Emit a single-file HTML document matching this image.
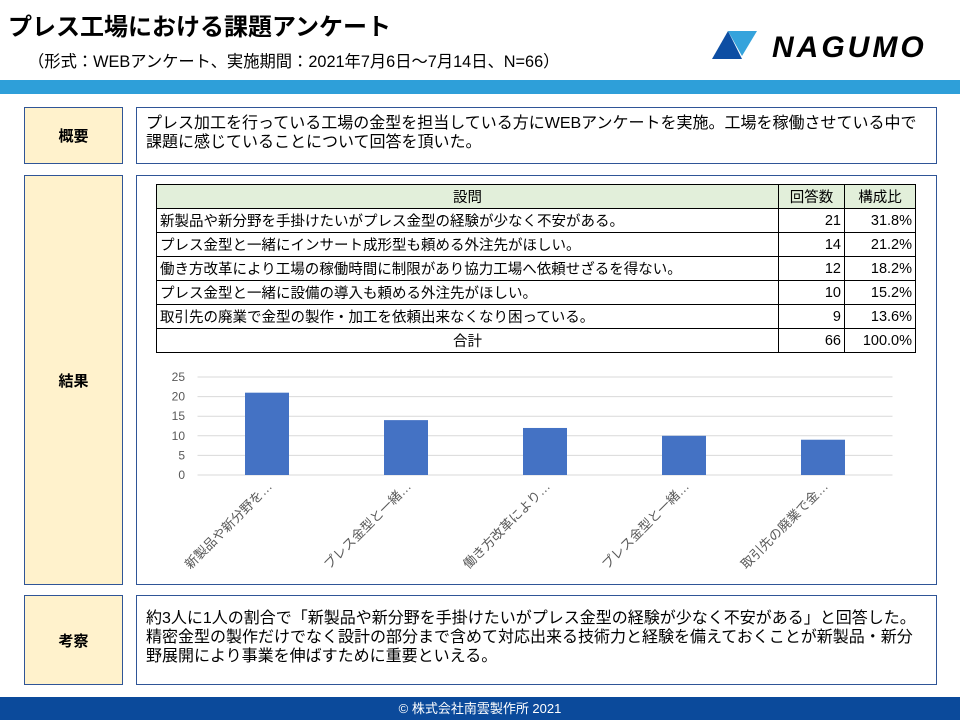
<!DOCTYPE html>
<html><head><meta charset="utf-8">
<style>
*{margin:0;padding:0;box-sizing:border-box}
body{width:960px;height:720px;position:relative;background:#fff;font-family:"Liberation Sans","Noto Sans CJK JP",sans-serif;color:#000;overflow:hidden}
.abs{position:absolute}
.lbl{position:absolute;left:24px;width:99px;background:#fff2cc;border:1px solid #2f5597;font-weight:bold;font-size:15px;display:flex;align-items:center;justify-content:center}
.box{position:absolute;left:136px;width:801px;border:1px solid #2f5597;background:#fff;white-space:nowrap;overflow:hidden}
table{border-collapse:collapse;position:absolute;left:156px;top:184px;font-size:14.5px;table-layout:fixed}
td{border:1px solid #000;height:24px;padding:0 3px;white-space:nowrap;overflow:hidden}
.n{text-align:right}
</style></head><body>
<div class="abs" style="left:8px;top:7px;font-size:24px;font-weight:bold">プレス工場における課題アンケート</div>
<div class="abs" style="left:28px;top:48px;font-size:16.3px">（形式：WEBアンケート、実施期間：2021年7月6日～7月14日、N=66）</div>
<svg class="abs" style="left:700px;top:25px" width="260" height="40">
<polygon points="12,34 28,6 42,34" fill="#0d4ea3"/>
<polygon points="28,6 57,6 42,31" fill="#35a3dc"/>
<text x="72" y="32" font-family="Liberation Sans" font-weight="bold" font-style="italic" font-size="30" letter-spacing="3">NAGUMO</text>
</svg>
<div class="abs" style="left:0;top:80px;width:960px;height:14px;background:#2e9fd9"></div>

<div class="lbl" style="top:107px;height:57px">概要</div>
<div class="box" style="top:107px;height:57px;padding:6px 9px;font-size:16px;line-height:19px">プレス加工を行っている工場の金型を担当している方にWEBアンケートを実施。工場を稼働させている中で<br>課題に感じていることについて回答を頂いた。</div>

<div class="lbl" style="top:175px;height:410px">結果</div>
<div class="box" style="top:175px;height:410px"></div>
<table>
<colgroup><col style="width:622px"><col style="width:66px"><col style="width:71px"></colgroup>
<tr style="background:#e2efda"><td style="text-align:center">設問</td><td style="text-align:center">回答数</td><td style="text-align:center">構成比</td></tr>
<tr><td>新製品や新分野を手掛けたいがプレス金型の経験が少なく不安がある。</td><td class="n">21</td><td class="n">31.8%</td></tr>
<tr><td>プレス金型と一緒にインサート成形型も頼める外注先がほしい。</td><td class="n">14</td><td class="n">21.2%</td></tr>
<tr><td>働き方改革により工場の稼働時間に制限があり協力工場へ依頼せざるを得ない。</td><td class="n">12</td><td class="n">18.2%</td></tr>
<tr><td>プレス金型と一緒に設備の導入も頼める外注先がほしい。</td><td class="n">10</td><td class="n">15.2%</td></tr>
<tr><td>取引先の廃業で金型の製作・加工を依頼出来なくなり困っている。</td><td class="n">9</td><td class="n">13.6%</td></tr>
<tr><td style="text-align:center">合計</td><td class="n">66</td><td class="n">100.0%</td></tr>
</table>
<svg id="chart" class="abs" style="left:0;top:0" width="960" height="720"></svg>

<div class="lbl" style="top:595px;height:90px">考察</div>
<div class="box" style="top:595px;height:90px;padding:13px 9px;font-size:16px;line-height:19px">約3人に1人の割合で「新製品や新分野を手掛けたいがプレス金型の経験が少なく不安がある」と回答した。<br>精密金型の製作だけでなく設計の部分まで含めて対応出来る技術力と経験を備えておくことが新製品・新分<br>野展開により事業を伸ばすために重要といえる。</div>

<div class="abs" style="left:0;top:697px;width:960px;height:23px;background:#0b4a9b;color:#fff;font-size:13px;text-align:center;line-height:23px">© 株式会社南雲製作所 2021</div>

<script>
const categories=["新製品や新分野を…","プレス金型と一緒…","働き方改革により…","プレス金型と一緒…","取引先の廃業で金…"];
const values=[21,14,12,10,9];
const ticks=[0,5,10,15,20,25];
const svg=document.getElementById('chart');
const NS='http://www.w3.org/2000/svg';
const x0=197.5,x1=892.5,yBase=475,yTop=377,yMax=25;
const y=v=>yBase-(v/yMax)*(yBase-yTop);
const band=(x1-x0)/categories.length;
const xc=i=>x0+band*(i+0.5);
function mk(t,a){const e=document.createElementNS(NS,t);for(const k in a)e.setAttribute(k,a[k]);svg.appendChild(e);return e;}
ticks.forEach(t=>{
 const g=mk('line',{x1:x0,x2:x1,y1:y(t),y2:y(t),stroke:'#d9d9d9','stroke-width':1});
 
 
 const l=mk('text',{x:185,y:y(t)+4,'text-anchor':'end','font-size':12,fill:'#595959','font-family':'Liberation Sans'});
 l.textContent=t;
 
 
});
values.forEach((v,i)=>{
 const b=mk('rect',{x:xc(i)-22,y:y(v),width:44,height:yBase-y(v),fill:'#4472c4'});
 
 
 const t=mk('text',{x:0,y:0,'text-anchor':'end','font-size':13,fill:'#595959','font-family':'Liberation Sans, Noto Sans CJK JP, sans-serif',transform:`translate(${xc(i)+6},${yBase+12}) rotate(-45)`});
 t.textContent=categories[i];
 
 
});
</script>
</body></html>
